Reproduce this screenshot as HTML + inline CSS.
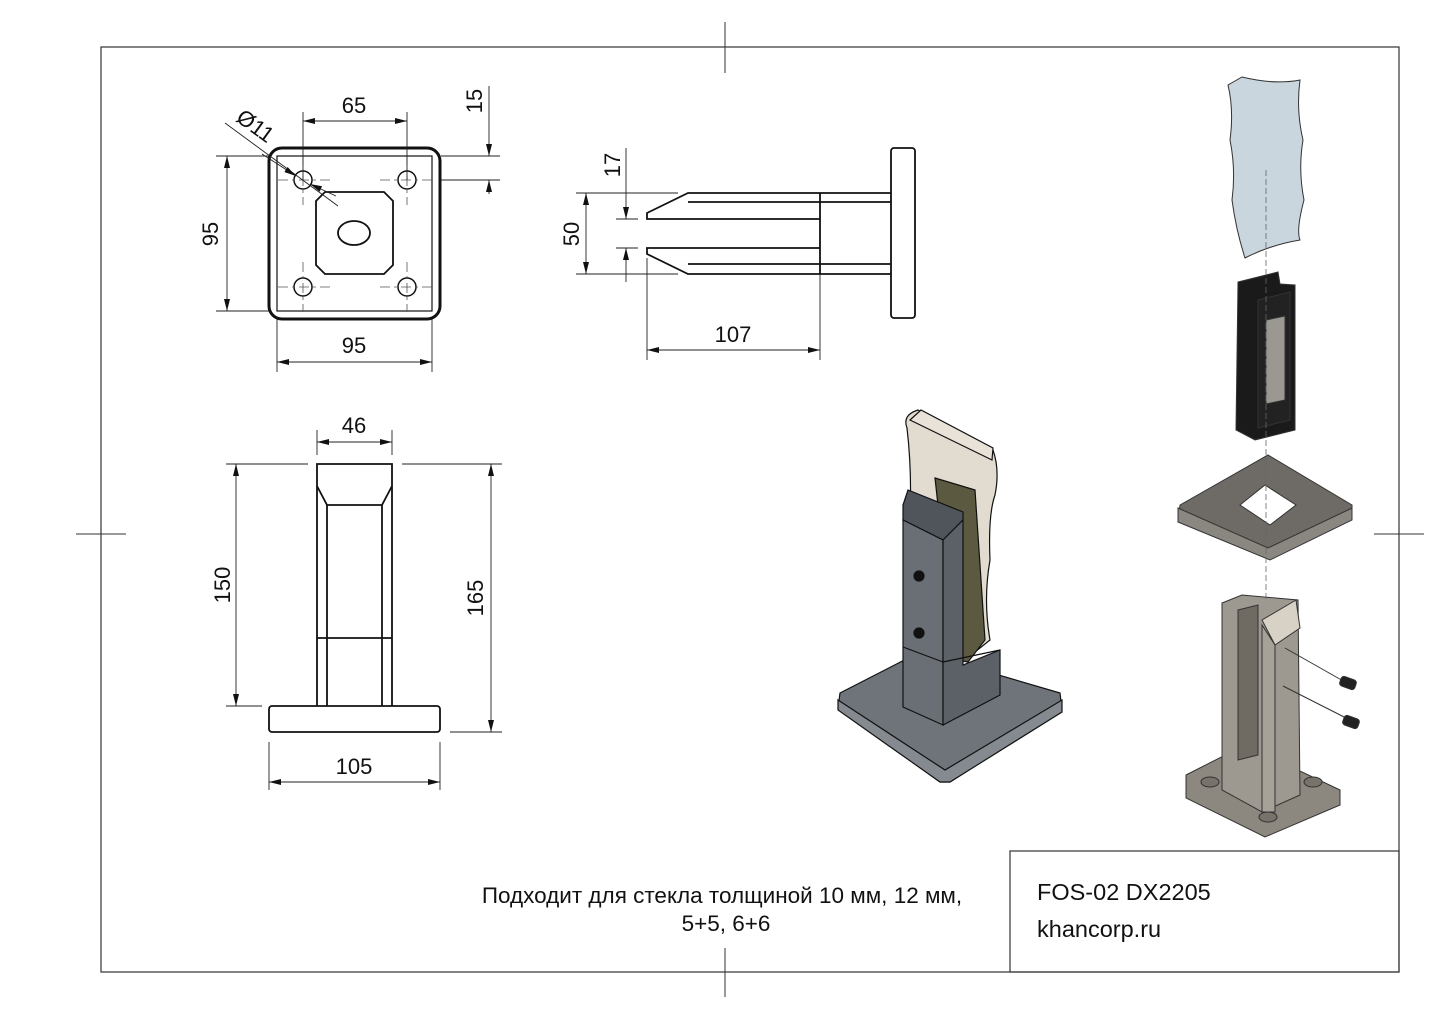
<!DOCTYPE html>
<html><head><meta charset="utf-8"><style>
html,body{margin:0;padding:0;background:#fff;}
svg{display:block;}
text{font-family:"Liberation Sans",sans-serif;fill:#111;}
</style></head><body>
<svg width="1444" height="1021" viewBox="0 0 1444 1021" xmlns="http://www.w3.org/2000/svg">
<defs>
<marker id="a" viewBox="0 0 12 6" refX="12" refY="3" markerWidth="12" markerHeight="6" orient="auto-start-reverse" markerUnits="userSpaceOnUse"><path d="M0,0 L12,3 L0,6 z" fill="#111"/></marker>
</defs>
<rect x="101" y="47" width="1298" height="925" fill="none" stroke="#333" stroke-width="1.2"/>
<g stroke="#333" stroke-width="1">
<line x1="725" y1="22" x2="725" y2="73"/><line x1="725" y1="948" x2="725" y2="997"/>
<line x1="76" y1="534" x2="126" y2="534"/><line x1="1374" y1="534" x2="1424" y2="534"/>
</g>
<rect x="1010" y="851" width="389" height="121" fill="none" stroke="#333" stroke-width="1.2"/>
<text x="1037" y="900" font-size="23.5">FOS-02 DX2205</text>
<text x="1037" y="937" font-size="23.5">khancorp.ru</text>
<text x="722" y="903" font-size="22.5" text-anchor="middle">Подходит для стекла толщиной 10 мм, 12 мм,</text>
<text x="726" y="931" font-size="22.5" text-anchor="middle">5+5, 6+6</text>

<!-- TOP VIEW -->
<g fill="none" stroke="#111">
<rect x="269" y="148" width="171" height="171" rx="13" stroke-width="3"/>
<rect x="277" y="156" width="155" height="155" stroke-width="1.2"/>
<polygon points="325,192 384,192 393,201 393,265 384,274 325,274 316,265 316,201" stroke-width="1.8"/>
<ellipse cx="354" cy="233" rx="16" ry="12" stroke-width="1.8"/>
<circle cx="303" cy="180" r="9" stroke-width="1.5"/><circle cx="407" cy="180" r="9" stroke-width="1.5"/>
<circle cx="303" cy="287" r="9" stroke-width="1.5"/><circle cx="407" cy="287" r="9" stroke-width="1.5"/>
</g>
<g stroke="#555" stroke-width="0.8" stroke-dasharray="10,4,3,4" fill="none">
<line x1="278" y1="180" x2="330" y2="180"/><line x1="380" y1="180" x2="432" y2="180"/>
<line x1="278" y1="287" x2="330" y2="287"/><line x1="380" y1="287" x2="432" y2="287"/>
<line x1="303" y1="155" x2="303" y2="205"/><line x1="407" y1="155" x2="407" y2="205"/>
<line x1="303" y1="262" x2="303" y2="312"/><line x1="407" y1="262" x2="407" y2="312"/>
</g>
<g stroke="#222" stroke-width="0.9" fill="none">
<line x1="303" y1="180" x2="303" y2="112"/><line x1="407" y1="180" x2="407" y2="112"/>
<line x1="303" y1="121" x2="407" y2="121" marker-start="url(#a)" marker-end="url(#a)"/>
<line x1="216" y1="156" x2="269" y2="156"/><line x1="216" y1="311" x2="269" y2="311"/>
<line x1="227" y1="156" x2="227" y2="311" marker-start="url(#a)" marker-end="url(#a)"/>
<line x1="277" y1="319" x2="277" y2="372"/><line x1="432" y1="319" x2="432" y2="372"/>
<line x1="277" y1="362" x2="432" y2="362" marker-start="url(#a)" marker-end="url(#a)"/>
<line x1="441" y1="156" x2="500" y2="156"/><line x1="441" y1="180" x2="500" y2="180"/>
<line x1="489" y1="86" x2="489" y2="156" marker-end="url(#a)"/>
<line x1="489" y1="194" x2="489" y2="180" marker-end="url(#a)"/>
<line x1="225" y1="123" x2="338" y2="206"/>
<line x1="262" y1="154" x2="296" y2="176" marker-end="url(#a)"/>
<line x1="336" y1="196" x2="310" y2="184" marker-end="url(#a)"/>
</g>
<text x="354" y="113" font-size="22" text-anchor="middle">65</text>
<text x="354" y="353" font-size="22" text-anchor="middle">95</text>
<text transform="translate(218,234) rotate(-90)" font-size="22" text-anchor="middle">95</text>
<text transform="translate(482,101) rotate(-90)" font-size="22" text-anchor="middle">15</text>
<text transform="translate(251,132) rotate(36)" font-size="22" text-anchor="middle">Ø11</text>

<!-- SIDE VIEW -->
<g fill="none" stroke="#111" stroke-width="1.8">
<rect x="891" y="148" width="24" height="170" rx="3"/>
<polyline points="891,193 688,193 647,213 647,219 820,219"/>
<line x1="688" y1="202" x2="891" y2="202"/>
<polyline points="820,248 647,248 647,254 688,274 891,274"/>
<line x1="688" y1="264" x2="891" y2="264"/>
<line x1="820" y1="193" x2="820" y2="274"/>
</g>
<g stroke="#222" stroke-width="0.9" fill="none">
<line x1="576" y1="193" x2="678" y2="193"/><line x1="576" y1="274" x2="678" y2="274"/>
<line x1="586" y1="193" x2="586" y2="274" marker-start="url(#a)" marker-end="url(#a)"/>
<line x1="616" y1="219" x2="638" y2="219"/><line x1="616" y1="248" x2="638" y2="248"/>
<line x1="626" y1="148" x2="626" y2="219" marker-end="url(#a)"/>
<line x1="626" y1="282" x2="626" y2="248" marker-end="url(#a)"/>
<line x1="647" y1="258" x2="647" y2="360"/><line x1="820" y1="274" x2="820" y2="360"/>
<line x1="647" y1="350" x2="820" y2="350" marker-start="url(#a)" marker-end="url(#a)"/>
</g>
<text transform="translate(579,234) rotate(-90)" font-size="22" text-anchor="middle">50</text>
<text transform="translate(620,165) rotate(-90)" font-size="22" text-anchor="middle">17</text>
<text x="733" y="342" font-size="22" text-anchor="middle">107</text>

<!-- FRONT VIEW -->
<g fill="none" stroke="#111" stroke-width="1.8">
<polyline points="317,706 317,464 392,464 392,706"/>
<polyline points="317,486 327,505 382,505 392,486"/>
<line x1="327" y1="505" x2="327" y2="706"/><line x1="382" y1="505" x2="382" y2="706"/>
<line x1="317" y1="638" x2="392" y2="638"/>
<rect x="269" y="706" width="171" height="26" rx="3"/>
</g>
<g stroke="#222" stroke-width="0.9" fill="none">
<line x1="317" y1="430" x2="317" y2="455"/><line x1="392" y1="430" x2="392" y2="455"/>
<line x1="317" y1="442" x2="392" y2="442" marker-start="url(#a)" marker-end="url(#a)"/>
<line x1="226" y1="464" x2="308" y2="464"/><line x1="226" y1="706" x2="262" y2="706"/>
<line x1="236" y1="464" x2="236" y2="706" marker-start="url(#a)" marker-end="url(#a)"/>
<line x1="402" y1="464" x2="502" y2="464"/><line x1="450" y1="732" x2="502" y2="732"/>
<line x1="491" y1="464" x2="491" y2="732" marker-start="url(#a)" marker-end="url(#a)"/>
<line x1="269" y1="742" x2="269" y2="790"/><line x1="440" y1="742" x2="440" y2="790"/>
<line x1="269" y1="782" x2="440" y2="782" marker-start="url(#a)" marker-end="url(#a)"/>
</g>
<text x="354" y="433" font-size="22" text-anchor="middle">46</text>
<text x="354" y="774" font-size="22" text-anchor="middle">105</text>
<text transform="translate(230,585) rotate(-90)" font-size="22" text-anchor="middle">150</text>
<text transform="translate(483,598) rotate(-90)" font-size="22" text-anchor="middle">165</text>

<!-- 3D RENDER A -->
<g stroke="#111" stroke-width="1.2">
<path d="M840,693 L920,652 L1060,693 L1062,710 L950,782 L940,782 L838,708 Z" fill="#6f747b"/>
<path d="M838,700 L945,770 L1062,700 L1062,712 L950,782 L940,782 L838,710 Z" fill="#858a90"/>
<path d="M907,428 Q902,415 918,410 L993,450 Q1000,470 995,495 Q988,515 990,560 Q983,600 990,640 L965,660 L910,520 Q912,470 907,428 Z" fill="#ddd5c8" fill-opacity="0.85"/>
<path d="M910,420 L921,410 L993,448 L992,460 Z" fill="#e8e2d8"/>
<path d="M935,478 L975,490 L985,640 L968,662 L955,660 Z" fill="#5b5a40"/>
<path d="M903,505 L908,490 L963,512 L963,520 L943,540 L903,520 Z" fill="#50555c"/>
<path d="M903,520 L943,540 L943,725 L903,707 Z" fill="#6a6f76"/>
<path d="M943,540 L963,520 L963,665 L1000,650 L1000,695 L943,725 Z" fill="#5c6168"/>
<line x1="903" y1="647" x2="943" y2="662"/><line x1="943" y1="662" x2="1000" y2="650"/>
<circle cx="919" cy="576" r="5" fill="#111"/><circle cx="919" cy="633" r="5" fill="#111"/>
</g>

<!-- 3D RENDER B -->
<g stroke="#333" stroke-width="1">
<path d="M1242,77 Q1275,85 1300,80 Q1296,110 1303,140 Q1298,170 1304,200 Q1296,230 1300,240 Q1270,245 1245,258 Q1236,230 1232,200 Q1236,170 1230,140 Q1234,110 1228,85 Z" fill="#c9d6de"/>
<path d="M1238,282 L1278,272 L1280,284 L1295,285 L1295,430 L1255,440 L1236,430 Z" fill="#1a1a1a"/>
<path d="M1258,300 L1290,292 L1290,420 L1258,428 Z" fill="#222"/>
<path d="M1266,320 L1285,316 L1285,400 L1266,404 Z" fill="#9a9890"/>
<path d="M1180,505 L1268,455 L1352,505 L1352,518 L1270,558 L1178,520 Z" fill="#6e6b66"/>
<path d="M1178,508 L1268,548 L1352,508 L1352,520 L1270,560 L1178,522 Z" fill="#8a8780"/>
<path d="M1240,505 L1265,485 L1296,505 L1270,525 Z" fill="#fff"/>
<path d="M1186,775 L1245,745 L1340,790 L1340,805 L1265,837 L1186,798 Z" fill="#8c877f"/>
<path d="M1222,603 L1242,595 L1298,600 L1300,795 L1262,812 L1222,790 Z" fill="#9d9890"/>
<path d="M1262,620 L1296,600 L1300,628 L1275,645 Z" fill="#d8d2c6"/>
<path d="M1262,625 L1275,645 L1275,812 L1262,812 Z" fill="#a7a298"/>
<path d="M1238,610 L1258,605 L1258,755 L1238,760 Z" fill="#6f6a62"/>
<ellipse cx="1210" cy="782" rx="9" ry="5" fill="#77726a"/><ellipse cx="1313" cy="782" rx="9" ry="5" fill="#77726a"/><ellipse cx="1268" cy="817" rx="9" ry="5" fill="#77726a"/>
<line x1="1285" y1="648" x2="1345" y2="682"/><line x1="1283" y1="686" x2="1350" y2="720"/>
<rect x="1340" y="678" width="16" height="10" rx="3" fill="#222" transform="rotate(20 1348 683)"/>
<rect x="1343" y="717" width="16" height="10" rx="3" fill="#222" transform="rotate(20 1351 722)"/>
</g>
<line x1="1266" y1="170" x2="1266" y2="600" stroke="#666" stroke-width="0.8" stroke-dasharray="6,3"/>
</svg>
</body></html>
